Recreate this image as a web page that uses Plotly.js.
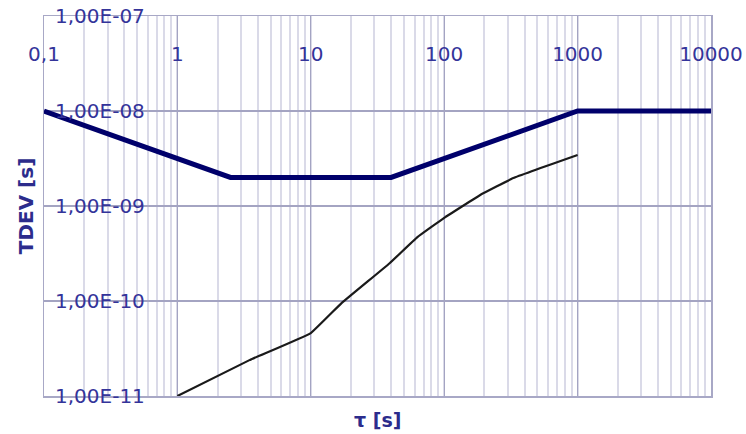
<!DOCTYPE html>
<html>
<head>
<meta charset="utf-8">
<script src="https://cdn.plot.ly/plotly-3.0.1.min.js"></script>
<style>html,body{margin:0;padding:0;background:#fff;}#chart{width:746px;height:434px;}</style>
</head>
<body>
<div id="chart"></div>
<script>
const maskTau = [0.1, 2.5, 40, 1000, 10000];
const maskTdev = [1e-8, 2e-9, 2e-9, 1e-8, 1e-8];
const measTau = [1, 3.5, 10, 17, 39, 63, 100, 185, 330, 1000];
const measTdev = [1e-11, 2.4e-11, 4.6e-11, 9.5e-11, 2.5e-10, 4.7e-10, 7.5e-10, 1.3e-9, 1.97e-9, 3.44e-9];
const xTickVals = [0.1, 1, 10, 100, 1000, 10000];
const xTickText = ['0,1', '1', '10', '100', '1000', '10000'];
const yTickVals = [1e-11, 1e-10, 1e-9, 1e-8, 1e-7];
const yTickText = ['1,00E-11', '1,00E-10', '1,00E-09', '1,00E-08', '1,00E-07'];

const textColor = '#34349a';
const gridMajor = '#a4a4c2';
const tickFont = {family: 'DejaVu Sans', size: 20, color: textColor};

const traces = [
  {x: maskTau, y: maskTdev, mode: 'lines', line: {color: '#00006b', width: 5}, hoverinfo: 'skip'},
  {x: measTau, y: measTdev, mode: 'lines', line: {color: '#1a1a1a', width: 2.2, shape: 'spline', smoothing: 0.25}, hoverinfo: 'skip'}
];

const layout = {
  width: 746, height: 434,
  margin: {l: 44, r: 35, t: 16, b: 38},
  paper_bgcolor: '#ffffff', plot_bgcolor: '#ffffff',
  showlegend: false,
  xaxis: {
    type: 'log', range: [-1, 4], side: 'top',
    tickvals: xTickVals, ticktext: xTickText,
    ticklabelposition: 'inside', ticklabelstandoff: 32, ticklabeloverflow: 'allow',
    ticks: 'outside', ticklen: 5, tickcolor: 'rgba(0,0,0,0)', tickfont: tickFont,
    showgrid: true, gridcolor: gridMajor, gridwidth: 1.3,
    minor: {dtick: 'D1', showgrid: true, gridcolor: '#dadae8', gridwidth: 2, ticks: ''},
    showline: true, mirror: true, linecolor: '#a8a8c6', linewidth: 1.5,
    zeroline: false
  },
  yaxis: {
    type: 'log', range: [-11, -7],
    tickvals: yTickVals, ticktext: yTickText,
    ticklabelposition: 'inside', ticklabeloverflow: 'allow', ticklabelstandoff: 12,
    ticks: '', tickfont: tickFont,
    showgrid: true, gridcolor: gridMajor, gridwidth: 1.3,
    showline: true, mirror: true, linecolor: '#a8a8c6', linewidth: 1.5,
    zeroline: false,
    title: {text: '<b>TDEV [s]</b>', font: {family: 'DejaVu Sans', size: 20, color: '#2c2c8c'}, standoff: 16}
  },
  annotations: [
    {text: '<b>τ [s]</b>', xref: 'paper', yref: 'paper', x: 0.5, y: -0.063, xanchor: 'center', yanchor: 'middle',
     showarrow: false, font: {family: 'DejaVu Sans', size: 19, color: '#2c2c8c'}}
  ]
};

Plotly.newPlot('chart', traces, layout, {displayModeBar: false, staticPlot: true});
</script>
</body>
</html>
